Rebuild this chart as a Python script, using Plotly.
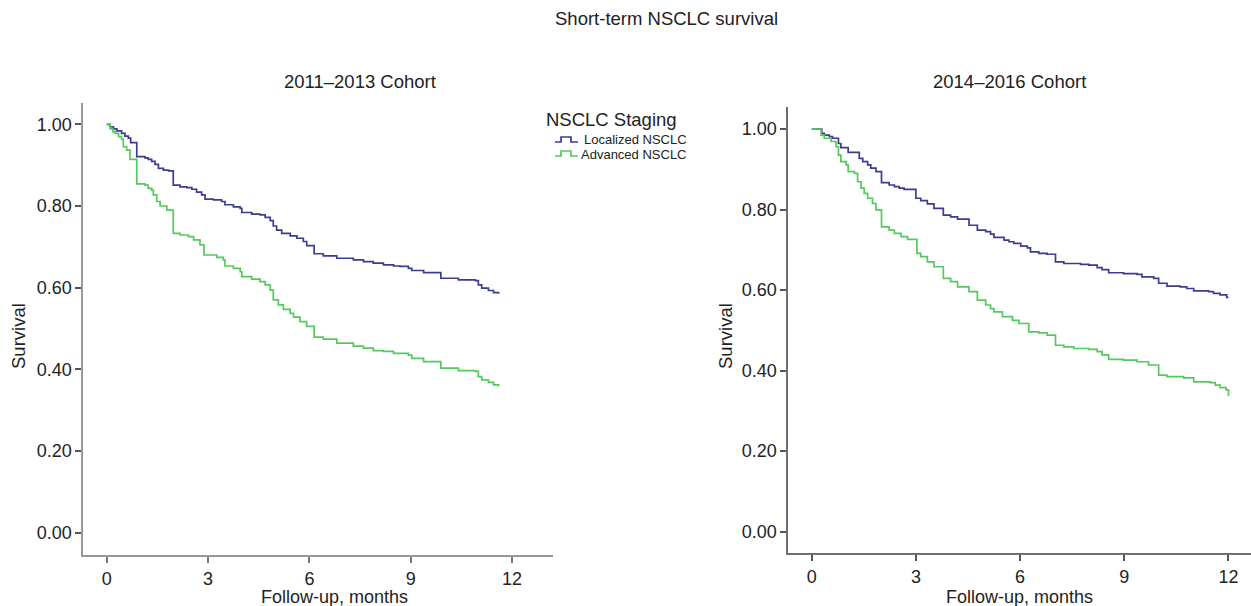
import plotly.graph_objects as go

# ---------------- data ----------------
months_ticks = [0, 3, 6, 9, 12]
survival_ticks = [0.0, 0.2, 0.4, 0.6, 0.8, 1.0]
series_names = ["Localized NSCLC", "Advanced NSCLC"]
cohort_titles = ["2011\u20132013 Cohort", "2014\u20132016 Cohort"]

# 2011-2013 cohort
c1_local_t = [0.00, 0.10, 0.20, 0.30, 0.44, 0.54, 0.64, 0.71, 0.89, 1.13, 1.23, 1.33, 1.43, 1.53,
              1.68, 1.83, 1.97, 2.17, 2.37, 2.52, 2.66, 2.81, 2.91, 3.16, 3.40, 3.50, 3.75, 3.95,
              4.00, 4.29, 4.54, 4.69, 4.84, 4.93, 5.03, 5.18, 5.43, 5.63, 5.82, 5.92, 6.14, 6.41,
              6.81, 7.30, 7.60, 7.89, 8.19, 8.49, 8.68, 8.93, 9.03, 9.38, 9.89, 10.41, 10.91,
              11.00, 11.10, 11.30, 11.45, 11.60]
c1_local_s = [1.000, 0.994, 0.989, 0.984, 0.978, 0.971, 0.966, 0.955, 0.921, 0.918, 0.914, 0.909,
              0.902, 0.892, 0.888, 0.886, 0.851, 0.847, 0.845, 0.841, 0.834, 0.827, 0.817, 0.815,
              0.811, 0.803, 0.798, 0.794, 0.784, 0.780, 0.778, 0.772, 0.764, 0.751, 0.741, 0.733,
              0.727, 0.721, 0.713, 0.703, 0.683, 0.678, 0.672, 0.668, 0.664, 0.660, 0.656, 0.653,
              0.652, 0.647, 0.642, 0.637, 0.623, 0.619, 0.617, 0.607, 0.599, 0.593, 0.588, 0.585]

c1_adv_t = [0.00, 0.10, 0.18, 0.25, 0.35, 0.44, 0.49, 0.59, 0.69, 0.89, 1.13, 1.23, 1.33, 1.38,
            1.48, 1.58, 1.78, 1.97, 2.17, 2.42, 2.57, 2.76, 2.88, 3.26, 3.45, 3.50, 3.75, 3.95,
            4.00, 4.29, 4.54, 4.69, 4.84, 4.93, 5.08, 5.23, 5.43, 5.53, 5.72, 5.92, 6.14, 6.41,
            6.81, 7.30, 7.60, 7.89, 8.19, 8.49, 8.93, 9.03, 9.38, 9.89, 10.41, 10.91, 11.00,
            11.10, 11.30, 11.45, 11.60]
c1_adv_s = [1.000, 0.989, 0.982, 0.978, 0.970, 0.963, 0.945, 0.937, 0.914, 0.854, 0.851, 0.843,
            0.839, 0.827, 0.811, 0.800, 0.790, 0.733, 0.729, 0.725, 0.717, 0.705, 0.680, 0.674,
            0.668, 0.653, 0.647, 0.639, 0.627, 0.621, 0.615, 0.607, 0.594, 0.570, 0.558, 0.547,
            0.537, 0.528, 0.517, 0.505, 0.479, 0.474, 0.464, 0.457, 0.452, 0.446, 0.444, 0.439,
            0.435, 0.427, 0.419, 0.403, 0.397, 0.395, 0.382, 0.374, 0.368, 0.362, 0.358]

# 2014-2016 cohort
c2_local_t = [0.00, 0.29, 0.36, 0.51, 0.60, 0.77, 0.84, 1.05, 1.37, 1.47, 1.61, 1.70, 1.85, 2.01,
              2.23, 2.38, 2.52, 2.66, 3.00, 3.14, 3.33, 3.52, 3.79, 4.00, 4.20, 4.53, 4.77, 5.01,
              5.15, 5.25, 5.54, 5.68, 5.82, 6.02, 6.21, 6.30, 6.54, 6.78, 7.02, 7.26, 7.74, 7.98,
              8.22, 8.36, 8.55, 8.98, 9.37, 9.51, 9.85, 9.99, 10.23, 10.61, 10.80, 11.00, 11.43,
              11.57, 11.76, 11.95, 12.00]
c2_local_s = [1.000, 0.989, 0.985, 0.981, 0.977, 0.964, 0.954, 0.942, 0.927, 0.919, 0.911, 0.903,
              0.894, 0.867, 0.861, 0.857, 0.853, 0.850, 0.828, 0.822, 0.814, 0.803, 0.786, 0.782,
              0.776, 0.761, 0.749, 0.745, 0.739, 0.731, 0.724, 0.720, 0.716, 0.709, 0.705, 0.695,
              0.691, 0.689, 0.670, 0.666, 0.664, 0.662, 0.656, 0.651, 0.643, 0.641, 0.639, 0.633,
              0.629, 0.617, 0.610, 0.608, 0.604, 0.598, 0.596, 0.592, 0.588, 0.582, 0.582]

c2_adv_t = [0.00, 0.27, 0.36, 0.56, 0.70, 0.77, 0.84, 0.99, 1.05, 1.23, 1.32, 1.42, 1.51, 1.61,
            1.75, 1.85, 2.01, 2.23, 2.38, 2.57, 2.76, 3.03, 3.14, 3.33, 3.52, 3.79, 4.00, 4.20,
            4.53, 4.77, 5.01, 5.15, 5.25, 5.49, 5.78, 5.97, 6.25, 6.54, 6.78, 7.02, 7.26, 7.55,
            7.98, 8.22, 8.36, 8.55, 8.98, 9.37, 9.70, 9.99, 10.23, 10.71, 11.00, 11.48, 11.62,
            11.76, 11.93, 12.00]
c2_adv_s = [1.000, 0.985, 0.977, 0.969, 0.956, 0.935, 0.919, 0.911, 0.894, 0.890, 0.869, 0.853,
            0.840, 0.828, 0.815, 0.799, 0.757, 0.749, 0.741, 0.733, 0.726, 0.691, 0.683, 0.670,
            0.658, 0.629, 0.621, 0.608, 0.596, 0.575, 0.563, 0.554, 0.546, 0.534, 0.525, 0.517,
            0.496, 0.494, 0.488, 0.463, 0.459, 0.455, 0.453, 0.447, 0.439, 0.428, 0.426, 0.422,
            0.414, 0.389, 0.385, 0.382, 0.372, 0.370, 0.364, 0.358, 0.352, 0.337]

# ---------------- styling ----------------
W, H = 1251, 606
BLUE = "#3d3d8e"
GREEN = "#55c95e"
FONT = "Liberation Sans, Arial, Helvetica, sans-serif"
TXT = "#222222"


def px_x(p):
    return p / W


def px_y(p):
    return 1 - p / H


fig = go.Figure()

curves = [
    ("x", "y", c1_local_t, c1_local_s, series_names[0], BLUE),
    ("x", "y", c1_adv_t, c1_adv_s, series_names[1], GREEN),
    ("x2", "y2", c2_local_t, c2_local_s, series_names[0], BLUE),
    ("x2", "y2", c2_adv_t, c2_adv_s, series_names[1], GREEN),
]
for xa, ya, t, s, name, col in curves:
    fig.add_trace(go.Scatter(
        x=t, y=s, mode="lines", line=dict(color=col, width=1.7, shape="hv"),
        name=name, legendgroup=name, showlegend=False, xaxis=xa, yaxis=ya,
    ))

common_x = dict(
    tickmode="array", tickvals=months_ticks, ticktext=[str(v) for v in months_ticks],
    showgrid=False, zeroline=False, showline=True, linewidth=2,
    ticks="outside", ticklen=6, tickwidth=1.5,
    tickfont=dict(family=FONT, size=18, color=TXT),
)
common_y = dict(
    tickmode="array", tickvals=survival_ticks, tickformat=".2f",
    showgrid=False, zeroline=False, showline=True, linewidth=2,
    ticks="outside", ticklen=6, tickwidth=1.5,
    tickfont=dict(family=FONT, size=18, color=TXT),
)

fig.update_layout(
    width=W, height=H,
    margin=dict(l=0, r=0, t=0, b=0),
    paper_bgcolor="white", plot_bgcolor="white",
    font=dict(family=FONT, color=TXT),
    showlegend=False,
    xaxis=dict(domain=[px_x(83.3), px_x(553)], range=[-0.693, 13.21], anchor="y",
               linecolor="#999999", tickcolor="#777777", **common_x),
    yaxis=dict(domain=[px_y(555), px_y(102.7)], range=[-0.0546, 1.0529], anchor="x",
               linecolor="#999999", tickcolor="#555555", **common_y),
    xaxis2=dict(domain=[px_x(788.3), 1.0], range=[-0.674, 12.65], anchor="y2",
                linecolor="#6e6e6e", tickcolor="#555555", **common_x),
    yaxis2=dict(domain=[px_y(553.3), px_y(107.3)], range=[-0.0536, 1.0539], anchor="x2",
                linecolor="#6e6e6e", tickcolor="#555555", **common_y),
)

annos = [
    dict(text="Short-term NSCLC survival", x=666, y=18, size=18.5, angle=0, anchor="center"),
    dict(text=cohort_titles[0], x=360, y=82, size=18.5, angle=0, anchor="center"),
    dict(text=cohort_titles[1], x=1009, y=82, size=18.5, angle=0, anchor="center"),
    dict(text="Follow-up, months", x=334, y=597, size=18, angle=0, anchor="center"),
    dict(text="Follow-up, months", x=1019, y=597, size=18, angle=0, anchor="center"),
    dict(text="Survival", x=18, y=336, size=18.5, angle=-90, anchor="center"),
    dict(text="Survival", x=725, y=336, size=18.5, angle=-90, anchor="center"),
    # legend (drawn by hand to match the compact reference legend)
    dict(text="NSCLC Staging", x=544, y=119, size=18.5, angle=0, anchor="left"),
    dict(text=series_names[0], x=582, y=139.5, size=13, angle=0, anchor="left"),
    dict(text=series_names[1], x=579, y=154, size=13, angle=0, anchor="left"),
]
for a in annos:
    fig.add_annotation(
        text=a["text"], x=px_x(a["x"]), y=px_y(a["y"]), xref="paper", yref="paper",
        xanchor=a["anchor"], yanchor="middle", showarrow=False, textangle=a["angle"],
        font=dict(family=FONT, size=a["size"], color=TXT),
    )


def step_icon(x0, yc, color):
    # small step-shaped legend glyph, like the reference key
    pts = [(x0, yc + 2.5), (x0 + 6, yc + 2.5), (x0 + 6, yc - 2.5), (x0 + 16, yc - 2.5),
           (x0 + 16, yc + 2.5), (x0 + 23, yc + 2.5)]
    path = "M " + " L ".join(f"{px_x(px):.5f},{px_y(py):.5f}" for px, py in pts)
    fig.add_shape(type="path", path=path, xref="paper", yref="paper",
                  line=dict(color=color, width=1.7))


step_icon(555, 139.5, BLUE)
step_icon(555, 153.5, GREEN)

fig.write_html(
    "out.html",
    config={"displayModeBar": False},
    post_script="document.body.style.margin='0px';document.body.style.overflow='hidden';",
)
